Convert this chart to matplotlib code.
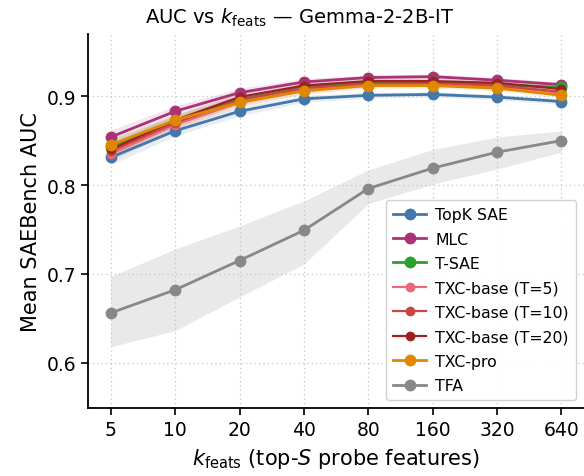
import matplotlib
matplotlib.use("Agg")
import matplotlib.pyplot as plt
import numpy as np

k_feats = [5, 10, 20, 40, 80, 160, 320, 640]

topk   = [0.831, 0.861, 0.883, 0.897, 0.901, 0.902, 0.899, 0.894]
mlc    = [0.854, 0.883, 0.904, 0.916, 0.921, 0.922, 0.918, 0.913]
tsae   = [0.843, 0.872, 0.896, 0.910, 0.915, 0.916, 0.913, 0.910]
txc5   = [0.835, 0.868, 0.893, 0.907, 0.913, 0.913, 0.911, 0.904]
txc10  = [0.838, 0.870, 0.896, 0.909, 0.914, 0.915, 0.912, 0.905]
txc20  = [0.840, 0.873, 0.899, 0.912, 0.917, 0.917, 0.915, 0.908]
txcpro = [0.845, 0.873, 0.893, 0.906, 0.912, 0.912, 0.909, 0.901]
tfa    = [0.656, 0.682, 0.715, 0.749, 0.796, 0.819, 0.837, 0.850]
tfa_lo = [0.618, 0.636, 0.674, 0.711, 0.779, 0.801, 0.818, 0.837]
tfa_hi = [0.697, 0.728, 0.754, 0.782, 0.817, 0.840, 0.854, 0.861]
band_w = [0.008, 0.006, 0.005, 0.004, 0.003, 0.003, 0.003, 0.003]  # spread of the SAE-family runs

series = [
    ("TopK SAE", topk, "#4477aa", 7.5, 2.0),
    ("MLC", mlc, "#aa3377", 7.5, 2.0),
    ("T-SAE", tsae, "#2ca02c", 7.5, 2.0),
    ("TXC-base (T=5)", txc5, "#ee6677", 6, 1.6),
    ("TXC-base (T=10)", txc10, "#cc4444", 6, 1.6),
    ("TXC-base (T=20)", txc20, "#992222", 6, 1.6),
    ("TXC-pro", txcpro, "#dd8800", 7.5, 2.0),
]

fig = plt.figure(figsize=(5.84, 4.77), dpi=100)
ax = fig.add_axes([0.151, 0.1426, 0.849, 0.784])

for name, ys, c, ms, lw in series:
    ys = np.array(ys); bw = np.array(band_w)
    ax.fill_between(k_feats, ys - bw, ys + bw, color=c, alpha=0.12, lw=0)
    ax.plot(k_feats, ys, "o-", color=c, ms=ms, lw=lw, label=name)
ax.fill_between(k_feats, tfa_lo, tfa_hi, color="#888888", alpha=0.18, lw=0)
ax.plot(k_feats, tfa, "o-", color="#888888", ms=7.5, lw=2.0, label="TFA")

ax.set_xscale("log", base=2)
ax.set_xticks(k_feats)
ax.set_xticklabels([str(k) for k in k_feats])
ax.minorticks_off()
ax.set_yticks([0.6, 0.7, 0.8, 0.9])
ax.set_ylim(0.549, 0.970)
ax.tick_params(labelsize=13.5, width=1.2, length=5)
ax.grid(True, ls=(0, (1, 2.5)), color="#c4c4c4", lw=0.9)
for s in ["top", "right"]:
    ax.spines[s].set_visible(False)
for s in ["left", "bottom"]:
    ax.spines[s].set_linewidth(1.3)

ax.set_ylabel("Mean SAEBench AUC", fontsize=15, labelpad=4)
ax.set_xlabel(r"$k_{\mathrm{feats}}$ (top-$S$ probe features)", fontsize=15, labelpad=5)
ax.set_title(r"AUC vs $k_{\mathrm{feats}}$ — Gemma-2-2B-IT", fontsize=14, x=0.427, pad=8)
ax.legend(loc="lower right", fontsize=11.3, framealpha=0.9, borderpad=0.45,
          handlelength=2.1, handletextpad=0.6, labelspacing=0.6)

fig.savefig("out.png", dpi=100)
